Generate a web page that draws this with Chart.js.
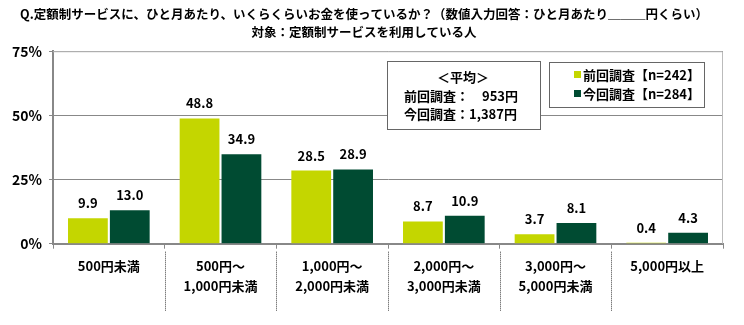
<!DOCTYPE html>
<html>
<head>
<meta charset="utf-8">
<script src="https://cdn.jsdelivr.net/npm/chart.js@4"></script>
<style>
  body { margin: 0; background: #fff; }
  #wrap { width: 744px; height: 325px; }
</style>
</head>
<body>
<div id="wrap"><canvas id="grafico"></canvas></div>
<script>
const categorias = [
    ['500円未満'],
    ['500円～', '1,000円未満'],
    ['1,000円～', '2,000円未満'],
    ['2,000円～', '3,000円未満'],
    ['3,000円～', '5,000円未満'],
    ['5,000円以上']
]
const serieLabels = ['前回調査【n=242】', '今回調査【n=284】']
const previo = [9.9, 48.8, 28.5, 8.7, 3.7, 0.4]
const actual = [13.0, 34.9, 28.9, 10.9, 8.1, 4.3]
const titulo = ['Q.定額制サービスに、ひと月あたり、いくらくらいお金を使っているか？（数値入力回答：ひと月あたり＿＿＿円くらい）', '対象：定額制サービスを利用している人']
const promedio = ['＜平均＞', '前回調査：　953円', '今回調査：1,387円']

const fuente = '"Noto Sans CJK JP", "Noto Sans", sans-serif'
const colores = ['#c4d600', '#004b32']

// etiquetas de valor + recuadros + separadores
const extras = {
    id: 'extras',
    afterDatasetsDraw(chart) {
        const ctx = chart.ctx
        const area = chart.chartArea
        ctx.save()

        // marco gris arriba y derecha
        ctx.strokeStyle = '#bbb'
        ctx.lineWidth = 1
        ctx.beginPath()
        ctx.moveTo(area.left, area.top + 0.5)
        ctx.lineTo(area.right - 0.5, area.top + 0.5)
        ctx.lineTo(area.right - 0.5, area.bottom)
        ctx.stroke()

        // valores
        ctx.font = 'bold 13px ' + fuente
        ctx.fillStyle = '#000'
        ctx.textAlign = 'center'
        ctx.textBaseline = 'middle'
        chart.data.datasets.forEach((ds, i) => {
            chart.getDatasetMeta(i).data.forEach((bar, j) => {
                ctx.fillText(ds.data[j].toFixed(1), bar.x, bar.y - 15)
            })
        })

        // separadores punteados
        const xs = chart.scales.x
        ctx.strokeStyle = '#444'
        ctx.setLineDash([1, 1])
        for (let k = 1; k < categorias.length; k++) {
            const x = Math.round((xs.getPixelForValue(k - 1) + xs.getPixelForValue(k)) / 2) + 0.5
            ctx.beginPath()
            ctx.moveTo(x, area.bottom + 8)
            ctx.lineTo(x, area.bottom + 68)
            ctx.stroke()
        }
        ctx.setLineDash([])

        // caja promedio
        ctx.fillStyle = '#fff'
        ctx.fillRect(387, 61, 153, 68)
        ctx.strokeStyle = '#666'
        ctx.strokeRect(387.5, 61.5, 153, 68)
        ctx.fillStyle = '#000'
        ctx.font = 'bold 13px ' + fuente
        ctx.textAlign = 'center'
        ctx.fillText(promedio[0], 463, 77)
        ctx.textAlign = 'left'
        ctx.fillText(promedio[1], 404, 96)
        ctx.fillText(promedio[2], 404, 114)

        // leyenda
        ctx.fillStyle = '#fff'
        ctx.fillRect(549, 62, 155, 45)
        ctx.strokeStyle = '#666'
        ctx.strokeRect(549.5, 62.5, 155, 45)
        chart.data.datasets.forEach((ds, i) => {
            const y = 75 + i * 19
            ctx.fillStyle = ds.backgroundColor
            ctx.fillRect(574, y - 4, 7, 7)
            ctx.fillStyle = '#000'
            ctx.fillText(ds.label, 583, y)
        })
        ctx.restore()
    }
}

const config = {
    type: 'bar',
    data: {
        labels: categorias,
        datasets: [
            { label: serieLabels[0], data: previo, backgroundColor: colores[0] },
            { label: serieLabels[1], data: actual, backgroundColor: colores[1] }
        ]
    },
    options: {
        responsive: true,
        maintainAspectRatio: false,
        animation: false,
        layout: { padding: { left: 5, right: 21, top: 0, bottom: 22 } },
        datasets: { bar: { categoryPercentage: 0.75, barPercentage: 0.95 } },
        plugins: {
            legend: { display: false },
            tooltip: { enabled: false },
            title: {
                display: true,
                text: titulo,
                color: '#000',
                font: { family: fuente, size: 12.5, weight: 'bold', lineHeight: 1.45 },
                padding: { top: 5, bottom: 10 }
            }
        },
        scales: {
            x: {
                grid: { display: true, drawOnChartArea: false, color: '#888', tickLength: 5, offset: true },
                border: { color: '#888', width: 2 },
                ticks: { color: '#000', font: { family: fuente, size: 13, weight: 'bold', lineHeight: 1.55 }, padding: 7 }
            },
            y: {
                min: 0,
                max: 75,
                ticks: { stepSize: 25, color: '#000', padding: 7, font: { family: fuente, size: 14, weight: 'bold' }, callback: (v) => v + '%' },
                grid: { color: '#888', tickLength: 4 },
                border: { color: '#888', width: 2 }
            }
        }
    }
}

new Chart(document.getElementById('grafico'), { ...config, plugins: [extras] })
</script>
</body>
</html>
